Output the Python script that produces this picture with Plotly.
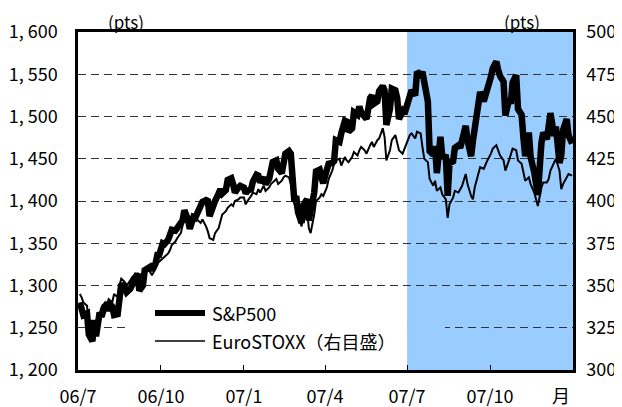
import pandas as pd
import plotly.graph_objects as go

# every second business day, 2006-07-03 .. 2007-12-31
dates = pd.bdate_range("2006-07-03", periods=391)[::2]

sp500 = [
    1280, 1270, 1265, 1267, 1242, 1234, 1259, 1240, 1268, 1263, 1277,          # 06/7
    1270, 1280, 1275, 1265, 1266, 1294, 1302, 1297, 1292, 1296, 1301,          # 06/8
    1304, 1314, 1294, 1300, 1318, 1320, 1322, 1318, 1326, 1336, 1336,          # 06/9
    1350, 1349, 1354, 1362, 1366, 1365, 1368, 1377, 1377, 1389, 1378,          # 06/10
    1367, 1381, 1380, 1385, 1397, 1399, 1401, 1400, 1382, 1396, 1400,          # 06/11
    1409, 1414, 1409, 1413, 1425, 1427, 1420, 1410, 1416, 1418,                # 06/12
    1416, 1409, 1412, 1414, 1423, 1431, 1430, 1422, 1428, 1420, 1426, 1438,    # 07/1
    1446, 1448, 1438, 1433, 1444, 1456, 1459, 1456, 1399, 1406,                # 07/2
    1387, 1374, 1395, 1402, 1377, 1387, 1410, 1435, 1437, 1428, 1421,          # 07/3
    1437, 1444, 1445, 1447, 1472, 1470, 1480, 1495, 1494, 1482,                # 07/4
    1486, 1505, 1502, 1512, 1505, 1501, 1497, 1522, 1525, 1515, 1518, 1530,    # 07/5
    1536, 1531, 1490, 1509, 1533, 1531, 1522, 1497, 1506, 1503,                # 07/6
    1519, 1525, 1531, 1525, 1553, 1549, 1553, 1541, 1518, 1459, 1455,          # 07/7
    1465, 1433, 1476, 1453, 1452, 1406, 1445, 1447, 1463, 1466, 1463, 1474,    # 07/8
    1489, 1472, 1453, 1471, 1484, 1519, 1529, 1518, 1525, 1527,                # 07/9
    1547, 1557, 1565, 1555, 1548, 1541, 1501, 1520, 1515, 1540, 1549,          # 07/10
    1509, 1502, 1475, 1453, 1481, 1452, 1434, 1416, 1407, 1469, 1481,          # 07/11
    1473, 1485, 1504, 1477, 1488, 1445, 1454, 1484, 1497, 1478, 1468,          # 07/12
]

eurostoxx = [
    345, 343, 340, 338, 328, 322, 328, 325, 333, 337, 340,
    338, 342, 340, 345, 343, 350, 354, 352, 350, 353, 355,
    356, 357, 350, 352, 357, 360, 358, 356, 360, 363, 364,
    366, 367, 369, 371, 374, 376, 378, 381, 385, 390, 387,
    386, 389, 390, 389, 387, 389, 385, 382, 378, 377, 381,
    384, 388, 392, 394, 396, 398, 397, 400, 401, 402,
    402, 398, 400, 403, 405, 404, 407, 405, 409, 406, 408, 410,
    411, 413, 410, 412, 414, 415, 414, 410, 398, 395,
    392, 385, 393, 395, 384, 381, 392, 400, 402, 404, 403,
    408, 413, 418, 422, 424, 425, 421, 426, 424, 423,
    426, 429, 427, 430, 432, 430, 428, 433, 435, 432, 436, 437,
    443, 438, 424, 430, 436, 439, 435, 430, 428, 431,
    436, 439, 440, 437, 441, 440, 432, 425, 423, 413, 409,
    412, 406, 408, 404, 401, 390, 398, 402, 406, 405, 407, 409,
    416, 410, 403, 401, 408, 417, 420, 419, 422, 424,
    428, 431, 433, 430, 427, 424, 418, 424, 427, 431, 430,
    424, 422, 416, 412, 414, 410, 405, 400, 397, 408, 411,
    411, 413, 418, 423, 425, 418, 407, 410, 414, 416, 415,
]

x_tickvals = ["2006-07-01", "2006-10-01", "2007-01-01", "2007-04-01", "2007-07-01", "2007-10-01"]
x_ticktext = ["06/7", "06/10", "07/1", "07/4", "07/7", "07/10"]
left_ticks = list(range(1200, 1601, 50))
left_ticktext = ["1, " + str(v)[1:] for v in left_ticks]
right_ticks = list(range(300, 501, 25))
right_ticktext = [str(v) for v in right_ticks]

FONT = "Noto Sans CJK JP"

fig = go.Figure()
fig.add_trace(go.Scatter(x=dates, y=sp500, name="S&P500", mode="lines",
                         line=dict(color="black", width=6.5), yaxis="y"))
fig.add_trace(go.Scatter(x=dates, y=eurostoxx, name="EuroSTOXX（右目盛）", mode="lines",
                         line=dict(color="black", width=2), yaxis="y2"))

shapes = [
    dict(type="rect", xref="x", yref="paper", x0="2007-07-01", x1="2008-01-01", y0=0, y1=1,
         fillcolor="#99CCFF", line=dict(width=0), layer="below"),
    # legend box hiding the grid line
    dict(type="rect", xref="x", yref="y", x0="2006-08-27", x1="2007-07-01", y0=1243, y1=1257,
         fillcolor="white", line=dict(width=0), layer="between"),
    dict(type="rect", xref="x", yref="y", x0="2007-07-01", x1="2007-08-12", y0=1243, y1=1257,
         fillcolor="#99CCFF", line=dict(width=0), layer="between"),
    # legend samples
    dict(type="line", xref="paper", yref="paper", x0=0.1556, x1=0.2566, y0=0.1686, y1=0.1686,
         line=dict(color="black", width=6)),
    dict(type="line", xref="paper", yref="paper", x0=0.1556, x1=0.2566, y0=0.0858, y1=0.0858,
         line=dict(color="black", width=1.5)),
]

annotations = [
    dict(text="(pts)", xref="paper", yref="paper", x=0.097, y=1.0325, showarrow=False,
         xanchor="center", yanchor="middle", font=dict(size=17, family=FONT, color="black")),
    dict(text="(pts)", xref="paper", yref="paper", x=0.897, y=1.0325, showarrow=False,
         xanchor="center", yanchor="middle", font=dict(size=17, family=FONT, color="black")),
    dict(text="月", xref="paper", yref="paper", x=0.976, y=-0.074, showarrow=False,
         xanchor="center", yanchor="middle", font=dict(size=18, family=FONT, color="black")),
    dict(text="S&amp;P500", xref="paper", yref="paper", x=0.2667, y=0.1686, showarrow=False,
         xanchor="left", yanchor="middle", font=dict(size=18, family=FONT, color="black")),
    dict(text="EuroSTOXX（右目盛）", xref="paper", yref="paper", x=0.2667, y=0.0858, showarrow=False,
         xanchor="left", yanchor="middle", font=dict(size=18, family=FONT, color="black")),
]

# the page body adds an 8px margin, so the figure is 8px smaller and margins compensate
fig.update_layout(
    width=614, height=399, autosize=False,
    margin=dict(l=70, r=49, t=24, b=37, pad=0, autoexpand=False),
    paper_bgcolor="white", plot_bgcolor="white",
    showlegend=False,
    font=dict(family=FONT, size=18, color="black"),
    shapes=shapes, annotations=annotations,
    xaxis=dict(type="date", range=["2006-07-01", "2008-01-01"], automargin=False,
               tickmode="array", tickvals=x_tickvals, ticktext=x_ticktext,
               ticks="inside", ticklen=5, tickwidth=1, tickcolor="black",
               showline=True, linecolor="black", linewidth=2.5, mirror=True,
               showgrid=False, zeroline=False, ticklabelstandoff=9,
               tickfont=dict(size=18, family=FONT, color="black")),
    yaxis=dict(range=[1200, 1600], tickmode="array", tickvals=left_ticks, ticktext=left_ticktext,
               automargin=False,
               showgrid=True, gridcolor="#333333", gridwidth=1, griddash="8px,5px",
               showline=True, linecolor="black", linewidth=2.5, mirror=True,
               ticks="", zeroline=False, ticklabelstandoff=14,
               tickfont=dict(size=18, family=FONT, color="black")),
    yaxis2=dict(range=[300, 500], overlaying="y", side="right", automargin=False,
                tickmode="array", tickvals=right_ticks, ticktext=right_ticktext,
                showgrid=False, showline=True, linecolor="black", linewidth=2.5,
                ticks="", zeroline=False, ticklabelstandoff=7,
                tickfont=dict(size=18, family=FONT, color="black")),
)

fig.write_html("out.html")
